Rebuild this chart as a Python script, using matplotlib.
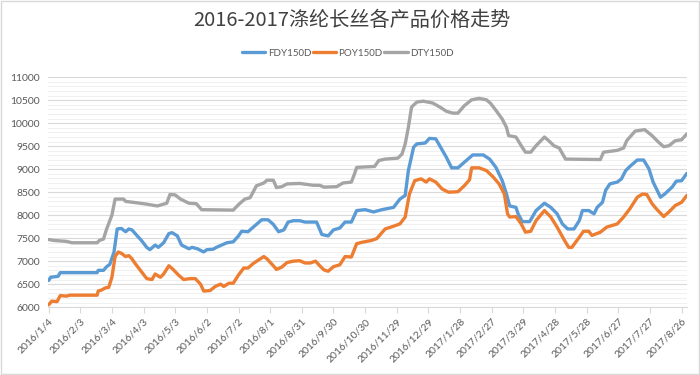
import matplotlib
matplotlib.use("Agg")
import matplotlib.pyplot as plt
from matplotlib.ticker import MultipleLocator
import pandas as pd

plt.rcParams['font.family'] = ['Lato', 'Noto Sans CJK SC', 'DejaVu Sans']

title = "2016-2017涤纶长丝各产品价格走势"
start_date = "2016-01-04"
series_names = ["FDY150D", "POY150D", "DTY150D"]

# day offsets from 2016-01-04 and prices
fdy_day = [0, 2, 9, 11, 46, 47, 52, 55, 58, 62, 65, 69, 73, 76, 79, 84, 88, 93, 96, 101, 104, 109, 114, 117,
           122, 126, 133, 136, 141, 147, 150, 156, 159, 169, 175, 180, 183, 189, 197, 202, 208, 213, 218, 223,
           227, 232, 238, 243, 254, 259, 265, 270, 276, 281, 287, 292, 300, 308, 316, 327, 333, 338, 341, 346,
           349, 357, 361, 367, 372, 377, 382, 388, 396, 402, 412, 418, 424, 430, 434, 437, 443, 445, 449, 456,
           462, 470, 476, 482, 487, 492, 498, 503, 506, 512, 517, 520, 525, 528, 532, 539, 543, 547, 551, 558,
           564, 569, 573, 580, 584, 591, 595, 600, 605]
fdy_val = [6580, 6650, 6670, 6750, 6750, 6800, 6800, 6880, 6930, 7200, 7700, 7710, 7640, 7700, 7680, 7550, 7450,
           7300, 7250, 7350, 7300, 7400, 7600, 7620, 7550, 7350, 7270, 7300, 7270, 7200, 7250, 7260, 7300, 7400,
           7420, 7550, 7650, 7640, 7800, 7900, 7900, 7800, 7640, 7680, 7850, 7880, 7880, 7850, 7850, 7580, 7550,
           7680, 7720, 7850, 7850, 8100, 8120, 8070, 8120, 8170, 8350, 8430, 8970, 9480, 9550, 9570, 9670, 9660,
           9460, 9260, 9030, 9030, 9190, 9310, 9310, 9220, 9040, 8750, 8460, 8200, 8170, 8030, 7860, 7860, 8100,
           8260, 8170, 8030, 7810, 7700, 7700, 7880, 8100, 8100, 8030, 8170, 8280, 8540, 8680, 8720, 8790, 8970,
           9060, 9200, 9200, 9010, 8720, 8390, 8460, 8610, 8740, 8750, 8910]

poy_day = [0, 3, 8, 11, 17, 20, 46, 47, 50, 54, 57, 60, 63, 66, 69, 73, 76, 79, 82, 87, 93, 98, 101, 106, 109,
           114, 118, 123, 128, 134, 139, 144, 147, 153, 158, 163, 166, 171, 175, 180, 185, 189, 194, 204, 207,
           213, 216, 221, 226, 232, 238, 243, 248, 253, 257, 261, 265, 270, 276, 281, 287, 292, 297, 306, 311,
           319, 327, 333, 338, 342, 347, 353, 358, 361, 367, 373, 379, 388, 394, 399, 401, 408, 415, 421, 427,
           432, 435, 437, 443, 448, 452, 457, 462, 470, 476, 482, 489, 493, 496, 503, 507, 512, 515, 523, 529,
           539, 545, 551, 558, 563, 567, 572, 576, 583, 588, 594, 600, 605]
poy_val = [6050, 6130, 6120, 6250, 6240, 6260, 6260, 6350, 6370, 6420, 6430, 6650, 7100, 7200, 7170, 7100, 7120,
           7050, 6950, 6800, 6620, 6600, 6720, 6650, 6720, 6900, 6820, 6700, 6600, 6620, 6620, 6500, 6350, 6360,
           6450, 6500, 6450, 6520, 6520, 6700, 6850, 6850, 6950, 7100, 7050, 6900, 6820, 6870, 6970, 7000, 7010,
           6960, 6960, 7000, 6900, 6810, 6780, 6880, 6920, 7100, 7090, 7380, 7410, 7450, 7490, 7700, 7760, 7810,
           7960, 8460, 8750, 8790, 8720, 8790, 8720, 8570, 8500, 8510, 8640, 8770, 9030, 9030, 8970, 8840, 8680,
           8460, 8030, 7960, 7970, 7810, 7630, 7650, 7880, 8100, 7960, 7740, 7450, 7300, 7300, 7520, 7650, 7650,
           7560, 7630, 7740, 7810, 7960, 8140, 8390, 8460, 8450, 8250, 8140, 7970, 8070, 8210, 8280, 8430]

dty_day = [0, 5, 17, 22, 46, 48, 52, 55, 60, 63, 71, 73, 80, 93, 103, 109, 112, 115, 120, 125, 133, 140, 145,
           175, 180, 186, 191, 197, 204, 207, 213, 216, 221, 226, 238, 251, 257, 261, 273, 279, 287, 290, 292,
           309, 313, 319, 331, 335, 338, 341, 344, 349, 355, 364, 371, 377, 383, 388, 394, 401, 408, 415, 419,
           424, 430, 434, 436, 443, 448, 452, 457, 462, 470, 474, 479, 484, 490, 523, 526, 539, 545, 548, 556,
           565, 572, 578, 583, 588, 594, 600, 605]
dty_val = [7470, 7450, 7430, 7400, 7400, 7450, 7480, 7700, 8000, 8350, 8350, 8300, 8280, 8240, 8200, 8240, 8260,
           8450, 8440, 8350, 8260, 8250, 8120, 8110, 8230, 8350, 8380, 8640, 8700, 8760, 8760, 8600, 8620, 8680,
           8690, 8650, 8650, 8610, 8620, 8700, 8720, 8900, 9040, 9060, 9190, 9220, 9240, 9330, 9550, 9910, 10350,
           10460, 10480, 10440, 10350, 10260, 10220, 10220, 10380, 10510, 10540, 10510, 10430, 10280, 10090,
           9910, 9730, 9700, 9510, 9370, 9370, 9510, 9700, 9620, 9510, 9460, 9220, 9210, 9370, 9410, 9460, 9620,
           9830, 9860, 9730, 9590, 9490, 9510, 9620, 9640, 9770]

tick_first = "2016-01-04"
tick_last = "2017-08-26"
tick_step_days = 30

colors = ["#5B9BD5", "#ED7D31", "#A5A5A5"]

t0 = pd.Timestamp(start_date)
def to_dates(days):
    return [t0 + pd.Timedelta(days=d) for d in days]

fig = plt.figure(figsize=(7, 3.75), dpi=100)
ax = fig.add_axes([0.069, 0.181, 0.913, 0.613])

for days, vals, name, c in zip([fdy_day, poy_day, dty_day], [fdy_val, poy_val, dty_val], series_names, colors):
    ax.plot(to_dates(days), vals, color=c, lw=2.4, label=name, solid_joinstyle='round', solid_capstyle='round')

ax.set_ylim(6000, 11000)
ax.set_xlim(t0 - pd.Timedelta(days=0.3), t0 + pd.Timedelta(days=605.5))
ax.yaxis.set_major_locator(MultipleLocator(500))
ax.yaxis.set_minor_locator(MultipleLocator(100))
ax.grid(which='major', axis='y', color='#D9D9D9', lw=0.8)
ax.grid(which='minor', axis='y', color='#F0F0F0', lw=0.7)
ax.set_axisbelow(True)

ticks = pd.date_range(tick_first, tick_last, freq=f"{tick_step_days}D")
ax.set_xticks(ticks)
ax.set_xticklabels([f"{d.year}/{d.month}/{d.day}" for d in ticks], rotation=45, ha='right',
                   rotation_mode='anchor', fontsize=7.5, color='#595959')
ax.tick_params(axis='x', which='major', length=4, color='#D9D9D9', pad=3)
ax.tick_params(axis='y', which='both', length=0, labelsize=7.5, labelcolor='#595959', pad=6)
for s in ['top', 'right', 'left']:
    ax.spines[s].set_visible(False)
ax.spines['bottom'].set_color('#D9D9D9')

fig.text(0.503, 0.946, title, ha='center', va='center', fontsize=14.5, color='#404040',
         family=['Noto Sans CJK SC', 'DejaVu Sans'])
fig.legend(loc='center', bbox_to_anchor=(0.497, 0.858), ncol=3, frameon=False, fontsize=7,
           labelcolor='#595959', handlelength=2.4, handletextpad=0.25, columnspacing=0.15)

fig.patches.append(plt.Rectangle((0.001, 0.002), 0.997, 0.996, transform=fig.transFigure,
                                 fill=False, edgecolor='#D9D9D9', lw=1))
fig.savefig("out.png", dpi=100, facecolor='white')
